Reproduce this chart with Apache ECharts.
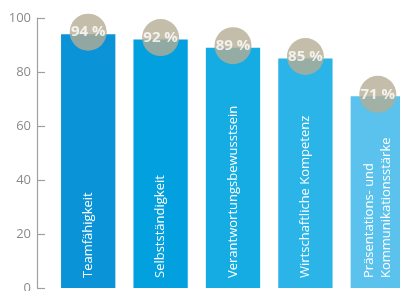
<!DOCTYPE html>
<html><head><meta charset="utf-8">
<script src="https://cdn.jsdelivr.net/npm/echarts@6/dist/echarts.min.js"></script>
<style>html,body{margin:0;padding:0;background:#fff}#c{width:400px;height:291px}</style>
</head><body><div id="c"></div>
<script>
const categories = ['Teamfähigkeit','Selbstständigkeit','Verantwortungsbewusstsein','Wirtschaftliche Kompetenz','Präsentations- und\nKommunikationsstärke'];
const values = [94, 92, 89, 85, 71];
const yTicks = [0, 20, 40, 60, 80, 100];
const barColors = ['#0b93d7','#02a0df','#14ace3','#2ab4e7','#5ac2ec'];

const chart = echarts.init(document.getElementById('c'), null, {renderer:'canvas'});
chart.setOption({
  animation:false,
  grid:{left:52, width:362, top:18, bottom:3, containLabel:false, outerBoundsMode:'none'},
  xAxis:{type:'category', data:categories, axisLine:{show:false}, axisTick:{show:false}, axisLabel:{show:false}},
  yAxis:{type:'value', min:yTicks[0], max:yTicks[yTicks.length-1], interval:20, offset:15,
    axisLine:{show:true, lineStyle:{color:'#a0a0a0', width:1.2}},
    axisTick:{show:true, inside:true, length:8, lineStyle:{color:'#a0a0a0', width:1.2}},
    axisLabel:{color:'#8a8a8a', fontSize:13, fontFamily:'Open Sans', margin:6},
    splitLine:{show:false}},
  series:[
    {type:'bar', barWidth:'75%', data:values.map((v,i)=>({value:v, itemStyle:{color:barColors[i]}})),
     label:{show:true, position:'insideBottom', rotate:90, align:'left', verticalAlign:'middle', distance:10,
       formatter:p=>p.name, color:'#fff', fontSize:13, fontFamily:'Open Sans', lineHeight:17}},
    {type:'scatter', data:values, symbol:'circle', symbolSize:37, symbolOffset:[0,-2], z:5,
     itemStyle:{color:'#b4ac94'},
     label:{show:true, position:'inside', formatter:p=>p.value+' %', color:'#fff', fontSize:15, fontWeight:'bold', fontFamily:'Open Sans'}}
  ]
});
</script></body></html>
